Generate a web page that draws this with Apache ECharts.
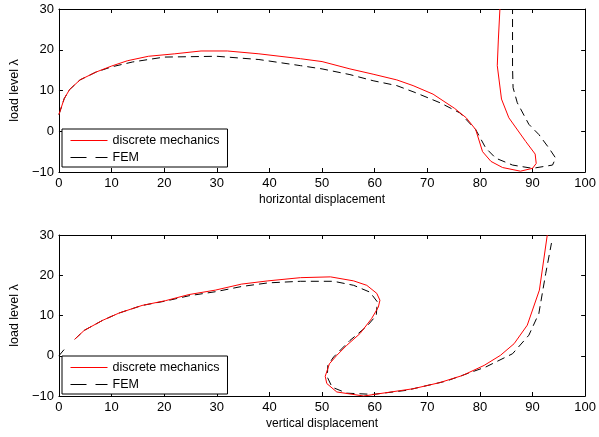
<!DOCTYPE html>
<html>
<head>
<meta charset="utf-8">
<script src="https://cdn.jsdelivr.net/npm/echarts@6/dist/echarts.min.js"></script>
<style>
html,body{margin:0;padding:0;background:#fff;}
#main{width:599px;height:437px;}
</style>
</head>
<body>
<div id="main"></div>
<script>
// tick labels
var xTicks = [0, 10, 20, 30, 40, 50, 60, 70, 80, 90, 100];
var yTicks = [-10, 0, 10, 20, 30];

// top plot - horizontal displacement, discrete mechanics
var horizDM = [[0,4.1],[1,8],[2,10.2],[4,12.6],[7,14.5],[10,16],[13,17.3],[17,18.4],[22,19],[27,19.7],[32,19.7],
    [38,19],[45.9,17.8],[50,17.1],[55.3,15.3],[59.7,14],[64.2,12.6],[67.3,11.2],[71.1,9.1],[75.2,5.6],[77.4,3.3],
    [79.2,0.4],[80.5,-5],[82.1,-7.4],[84.3,-8.9],[87.7,-9.8],[90,-9.1],[90.7,-7.9],[90.5,-5.6],[88.7,-2.5],
    [85.5,3.3],[84.1,7.9],[83.3,16.1],[83.5,22.4],[83.8,30]];

// top plot - horizontal displacement, FEM
var horizFEM = [[0,4.1],[1,8],[2,10.2],[4,12.6],[7,14.5],[10,15.8],[14,17],[20,18.2],[30,18.4],[38,17.6],
    [45.9,16.1],[50,15.3],[55.3,13.9],[59.7,12.4],[64.2,11.2],[67.7,9.5],[72.4,7],[76.2,4.5],[79.2,0.4],
    [81.1,-4.1],[83,-6.6],[86.2,-8.3],[90,-9.1],[93.8,-8.3],[94.4,-6.6],[93.1,-4.1],[91.2,-0.8],[89.3,1.7],
    [87.1,7],[86.3,10.7],[86.2,15.7],[86.2,30]];

// bottom plot - vertical displacement, discrete mechanics
var vertDM = [[3,4.1],[4.8,6.3],[8.3,8.8],[11.4,10.6],[15.8,12.5],[20.3,13.7],[24.7,15.2],[29.7,16.3],
    [34.7,17.8],[39.7,18.6],[45.9,19.4],[51.6,19.6],[56,18.6],[58.5,17.5],[60.4,15.5],[61,13.8],[60.7,12.1],
    [59.4,9.2],[57.2,5.5],[54.7,2.6],[52.8,0.1],[51.4,-2],[50.6,-5.1],[50.9,-6.9],[52.8,-9],[57.9,-10],
    [61,-9.4],[67.3,-8.2],[72.3,-6.7],[76.7,-4.9],[80.8,-2.4],[83.9,0.1],[86.5,3],[89,7.6],[91.3,16.3],[92.8,30]];

// bottom plot - vertical displacement, FEM
var vertFEM = [[0,0],[1.4,2.2],'-',[3,4.1],[4.8,6.3],[8.3,8.8],[11.4,10.6],[15.8,12.5],[20.3,13.6],[24.7,14.9],
    [29.7,15.9],[34.7,17.2],[39.7,18.1],[45.9,18.5],[52.2,18.5],[56,17.5],[59.1,15.8],[60.5,13.4],[60.3,10],
    [58.5,7.3],[55.3,3.8],[52.2,-0.3],[51.1,-2.4],[51,-5.3],[51.9,-7.8],[54.7,-9.3],[59.7,-9.6],[66,-8.6],
    [73.6,-6.3],[81.1,-2.8],[86.2,0.5],[89.3,5.1],[91.2,10.5],[92.5,20.4],[93.6,28]];

var font = 'Liberation Sans, Arial, sans-serif';

function minus(v){
    return String(v).replace('-', '\u2212');
}

var myChart = echarts.init(document.getElementById('main'));

function mainX(gi, name){
    return {
        type:'value', gridIndex:gi, min:xTicks[0], max:xTicks[xTicks.length-1], interval:10,
        name:name, nameLocation:'middle', nameGap:22,
        nameTextStyle:{color:'#000', fontSize:12, fontFamily:font},
        axisLine:{show:true, onZero:false, lineStyle:{color:'#000', width:1}},
        axisTick:{show:true, inside:true, length:4, lineStyle:{color:'#000'}},
        axisLabel:{color:'#000', fontSize:13, fontFamily:font, margin:5, formatter:minus},
        splitLine:{show:false}
    };
}
function boxX(gi){
    return {
        type:'value', gridIndex:gi, position:'top', min:0, max:100, interval:10,
        axisLine:{show:true, onZero:false, lineStyle:{color:'#000', width:1}},
        axisTick:{show:true, inside:true, length:4, lineStyle:{color:'#000'}},
        axisLabel:{show:false}, splitLine:{show:false}
    };
}
function mainY(gi){
    return {
        type:'value', gridIndex:gi, min:yTicks[0], max:yTicks[yTicks.length-1], interval:10,
        name:'load level \u03bb', nameLocation:'middle', nameGap:27, nameRotate:90,
        nameTextStyle:{color:'#000', fontSize:12.5, fontFamily:font},
        axisLine:{show:true, onZero:false, lineStyle:{color:'#000', width:1}},
        axisTick:{show:true, inside:true, length:4, lineStyle:{color:'#000'}},
        axisLabel:{color:'#000', fontSize:13, fontFamily:font, margin:5, formatter:minus},
        splitLine:{show:false}
    };
}
function boxY(gi){
    return {
        type:'value', gridIndex:gi, position:'right', min:-10, max:30, interval:10,
        axisLine:{show:true, onZero:false, lineStyle:{color:'#000', width:1}},
        axisTick:{show:true, inside:true, length:4, lineStyle:{color:'#000'}},
        axisLabel:{show:false}, splitLine:{show:false}
    };
}

function legendAt(top){
    return {
        orient:'vertical', left:62, top:top, width:166,
        padding:[5, 8, 3, 8], itemGap:4, itemWidth:37, itemHeight:10,
        borderColor:'#000', borderWidth:1, backgroundColor:'#fff',
        itemStyle:{opacity:0},
        lineStyle:{width:1},
        textStyle:{color:'#000', fontSize:12.5, fontFamily:font},
        data:[
            {name:'discrete mechanics'},
            {name:'FEM', lineStyle:{width:1, type:[16, 9]}}
        ],
        selectedMode:false
    };
}

var redLine = {color:'#ff0000', width:1};
var dashLine = {color:'#000', width:1, type:[8, 5]};

var option = {
    animation:false,
    backgroundColor:'#fff',
    grid:[
        {left:56, width:531, top:9, height:163},
        {left:56, width:531, top:235, height:161}
    ],
    xAxis:[mainX(0, 'horizontal displacement'), boxX(0), mainX(1, 'vertical displacement'), boxX(1)],
    yAxis:[mainY(0), boxY(0), mainY(1), boxY(1)],
    legend:[legendAt(129), legendAt(356)],
    series:[
        {name:'discrete mechanics', type:'line', xAxisIndex:0, yAxisIndex:0, data:horizDM, symbol:'none', lineStyle:redLine, itemStyle:{color:'#ff0000'}, z:3},
        {name:'FEM', type:'line', xAxisIndex:0, yAxisIndex:0, data:horizFEM, symbol:'none', lineStyle:dashLine, itemStyle:{color:'#000'}, z:2},
        {name:'discrete mechanics', type:'line', xAxisIndex:2, yAxisIndex:2, data:vertDM, symbol:'none', lineStyle:redLine, itemStyle:{color:'#ff0000'}, z:3},
        {name:'FEM', type:'line', xAxisIndex:2, yAxisIndex:2, data:vertFEM, symbol:'none', lineStyle:dashLine, itemStyle:{color:'#000'}, z:2}
    ]
};

myChart.setOption(option);
</script>
</body>
</html>
